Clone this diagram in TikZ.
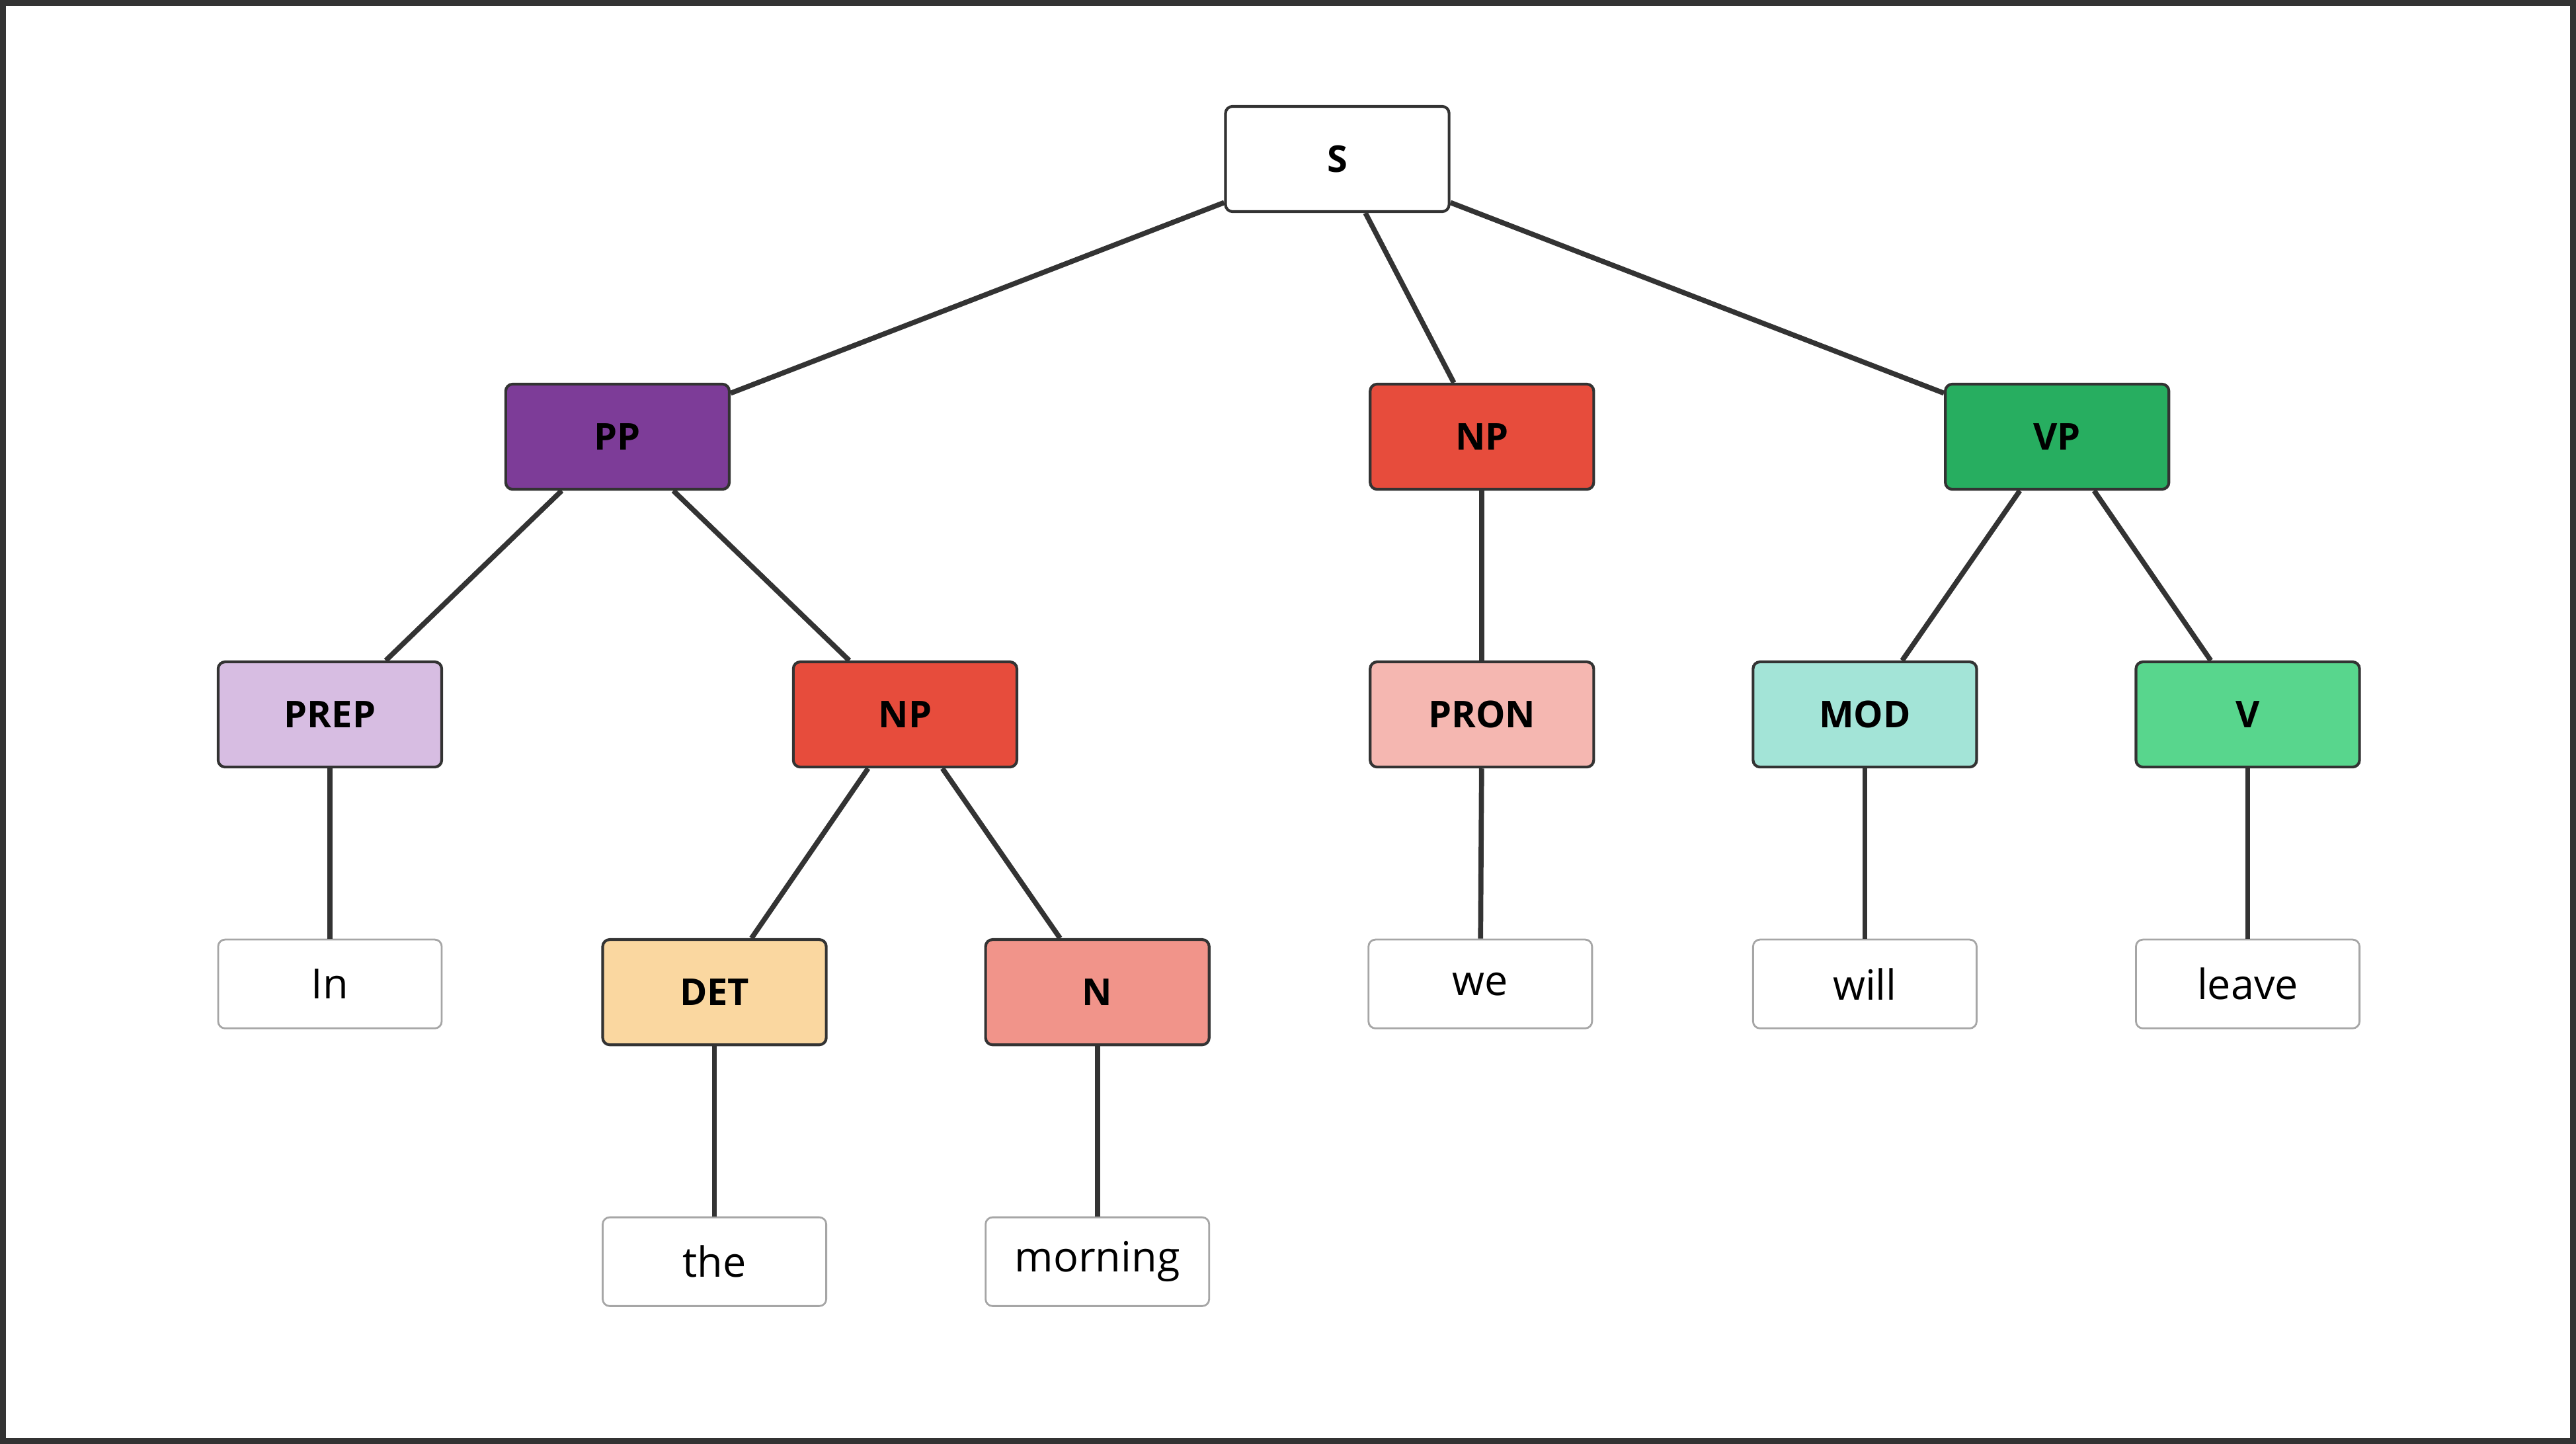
\documentclass[tikz,border=0pt]{standalone}
\usepackage{fontspec}
\setmainfont{Open Sans}
\usetikzlibrary{positioning}
\definecolor{ppcol}{HTML}{7D3C98}
\definecolor{npcol}{HTML}{E74C3C}
\definecolor{vpcol}{HTML}{27AE60}
\definecolor{prepcol}{HTML}{D7BDE2}
\definecolor{proncol}{HTML}{F5B7B1}
\definecolor{modcol}{HTML}{A3E4D7}
\definecolor{vcol}{HTML}{58D68D}
\definecolor{detcol}{HTML}{FAD7A0}
\definecolor{ncol}{HTML}{F1948A}
\definecolor{edgecol}{HTML}{333333}
\begin{document}
\begin{tikzpicture}[x=0.025cm, y=-0.025cm,
  cat/.style={draw=edgecol, line width=1.2pt, rounded corners=3pt, minimum width=3.4cm,
    minimum height=1.6cm, font=\fontsize{16}{19}\selectfont\bfseries},
  word/.style={draw=gray!70, line width=0.8pt, rounded corners=3pt, minimum width=3.4cm,
    minimum height=1.35cm, fill=white, font=\fontsize{18}{21}\selectfont},
  link/.style={draw=edgecol, line width=2.2pt}]
  % frame
  \draw[edgecol, line width=2.5pt, fill=white] (2,2) rectangle (1566,877);

  % phrase nodes
  \node[cat, fill=white] (s) at (814,97) {S};
  \node[cat, fill=ppcol] (pp) at (376,266) {PP};
  \node[cat, fill=npcol] (np) at (902,266) {NP};
  \node[cat, fill=vpcol] (vp) at (1252,266) {VP};
  \node[cat, fill=prepcol] (prep) at (201,435) {PREP};
  \node[cat, fill=npcol] (npb) at (551,435) {NP};
  \node[cat, fill=proncol] (pron) at (902,435) {PRON};
  \node[cat, fill=modcol] (mod) at (1135,435) {MOD};
  \node[cat, fill=vcol] (v) at (1368,435) {V};
  \node[cat, fill=detcol] (det) at (435,604) {DET};
  \node[cat, fill=ncol] (n) at (668,604) {N};

  % words
  \node[word] (in) at (201,599) {In};
  \node[word] (we) at (901,599) {we};
  \node[word] (will) at (1135,599) {will};
  \node[word] (leave) at (1368,599) {leave};
  \node[word] (the) at (435,768) {the};
  \node[word] (morning) at (668,768) {morning};

  % branches
  \begin{scope}[on background layer/.style={}]
  \path[link] (s) -- (pp);
  \path[link] (s) -- (np);
  \path[link] (s) -- (vp);
  \path[link] (pp) -- (prep);
  \path[link] (pp) -- (npb);
  \path[link] (npb) -- (det);
  \path[link] (npb) -- (n);
  \path[link] (np) -- (pron);
  \path[link] (vp) -- (mod);
  \path[link] (vp) -- (v);
  \path[link] (prep) -- (in);
  \path[link] (pron) -- (we);
  \path[link] (mod) -- (will);
  \path[link] (v) -- (leave);
  \path[link] (det) -- (the);
  \path[link] (n) -- (morning);
  \end{scope}
\end{tikzpicture}
\end{document}
